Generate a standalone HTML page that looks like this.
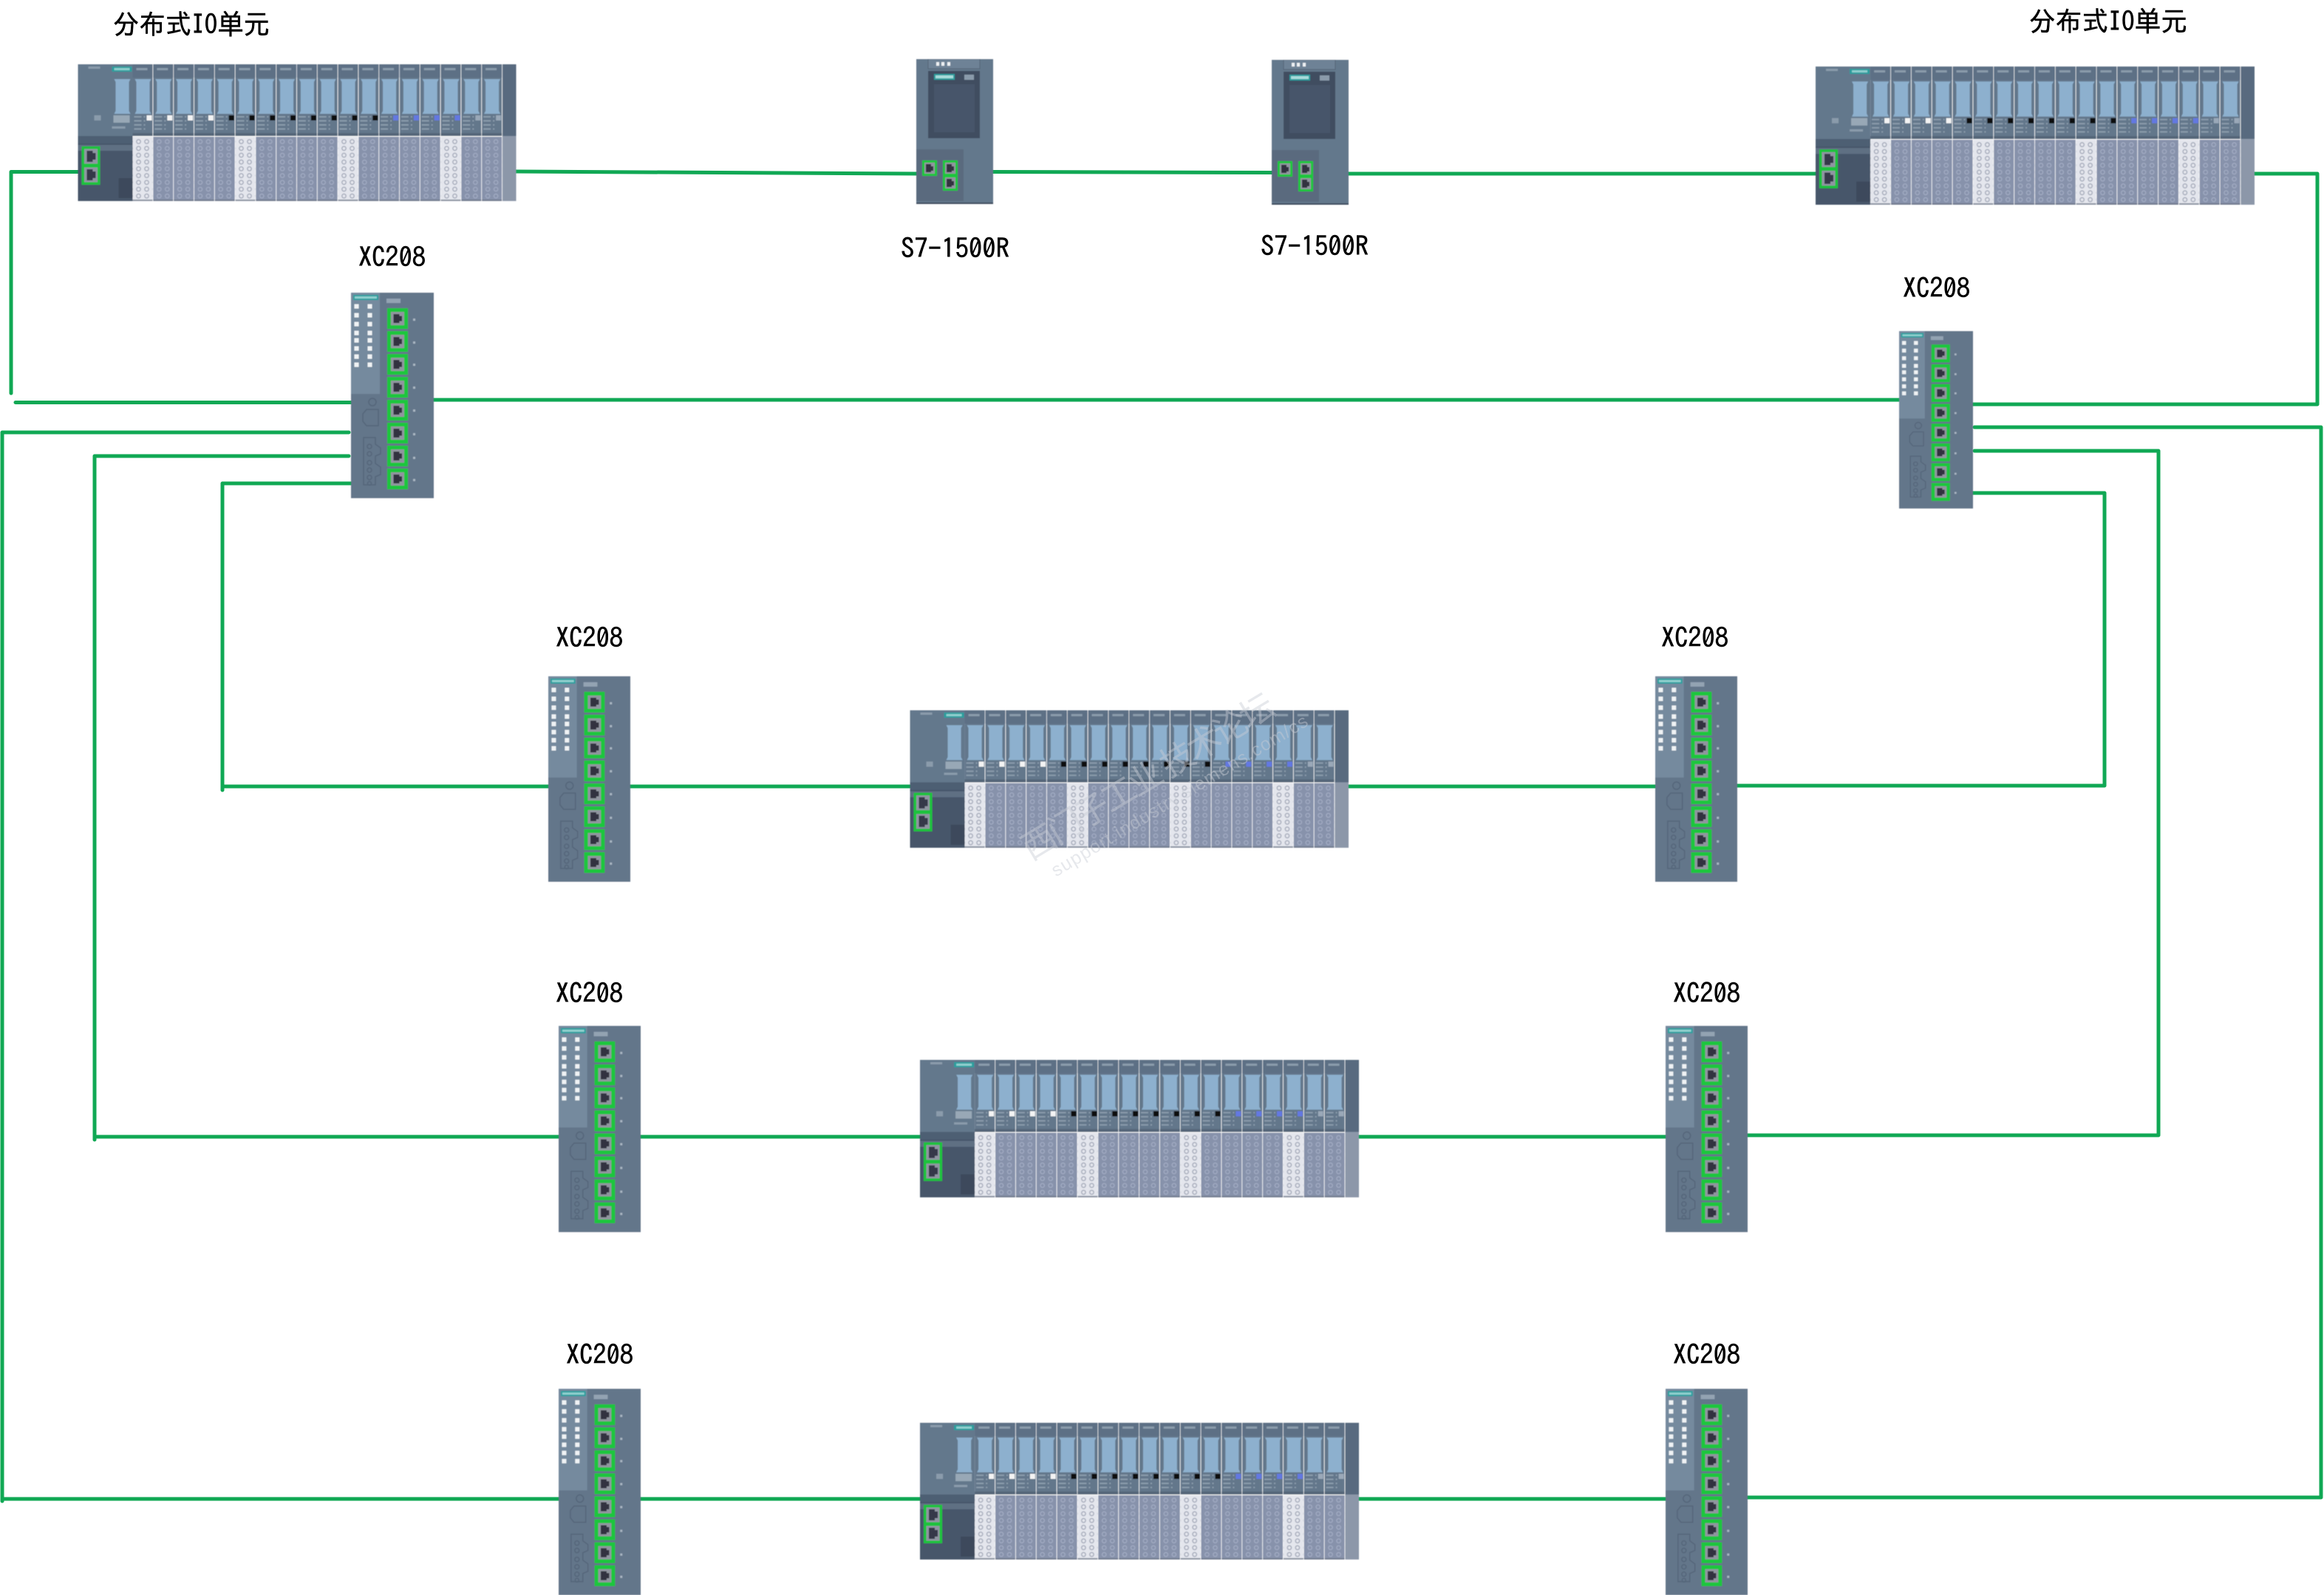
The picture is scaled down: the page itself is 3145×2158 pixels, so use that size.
<!DOCTYPE html>
<html lang="zh">
<head>
<meta charset="utf-8">
<title>S7-1500R network topology</title>
<style>
html,body{margin:0;padding:0;background:#fff}
svg{display:block}
text{font-family:"Liberation Sans","WenQuanYi Zen Hei","Noto Sans CJK SC",sans-serif}
.l{font-family:"WenQuanYi Zen Hei","IPAGothic","Noto Sans CJK SC",sans-serif;font-size:37px;fill:#000;stroke:#000;stroke-width:.5px}
</style>
</head>
<body>
<svg xmlns="http://www.w3.org/2000/svg" width="3145" height="2158" viewBox="0 0 3145 2158">
<defs>
<filter id="soft" x="-2%" y="-2%" width="104%" height="104%"><feGaussianBlur stdDeviation="0.6"/></filter>
<pattern id="hg" x="2.5" y="100" width="11" height="9.2" patternUnits="userSpaceOnUse"><circle cx="5.5" cy="4.6" r="2.7" fill="none" stroke="#a3adc4" stroke-width="1.2"/></pattern>
<pattern id="hw" x="2.5" y="100" width="11" height="9.2" patternUnits="userSpaceOnUse"><circle cx="5.5" cy="4.6" r="2.7" fill="none" stroke="#a2a8b8" stroke-width="1.3"/></pattern>
<pattern id="tl" x="2" y="70" width="13" height="5.5" patternUnits="userSpaceOnUse"><rect width="10" height="2" fill="#8a9bab"/></pattern>

<g id="mtop">
  <rect x="0" y="0" width="27" height="97" fill="#63778b"/>
  <rect x="0" y="0" width="27" height="18" fill="#5d7085"/>
  <rect x="5" y="5" width="15" height="3" fill="#8a9bab"/>
  <path d="M3 20H25L23 24V63L25 67H3L5 63V24Z" fill="#8db0ce"/>
  <rect x="1" y="69" width="16" height="22" fill="url(#tl)"/>
  <rect x="0" y="93" width="27" height="4" fill="#556679"/>
</g>
<g id="mg">
  <use href="#mtop"/>
  <rect x="0" y="98" width="27" height="87" fill="#8792ab"/>
  <rect x="0" y="100" width="27" height="83" fill="url(#hg)"/>
  <rect x="0" y="183" width="27" height="2" fill="#737d90"/>
</g>
<g id="mw">
  <use href="#mtop"/>
  <rect x="0" y="98" width="27" height="87" fill="#e4e6ed"/>
  <rect x="0" y="100" width="27" height="83" fill="url(#hw)"/>
  <rect x="0" y="183" width="27" height="2" fill="#8c94a2"/>
</g>

<symbol id="io" viewBox="0 0 593 185" preserveAspectRatio="none">
  <rect width="593" height="185" fill="#fff"/>
  <rect x="0" y="0" width="74" height="97" fill="#64788c"/>
  <rect x="0" y="97" width="74" height="88" fill="#47566b"/>
  <rect x="0" y="97" width="74" height="10" fill="#4e5e73"/>
  <rect x="0" y="109" width="74" height="8" fill="#5e6f83"/>
  <rect x="46" y="3" width="27" height="7" fill="#2b9e9e"/>
  <rect x="49" y="5" width="21" height="3" fill="#8fcfce"/>
  <rect x="14" y="3" width="16" height="3" fill="#8a9bab"/>
  <path d="M49 20H71L69 24V63L71 67H49L51 63V24Z" fill="#8db0ce"/>
  <rect x="48" y="69" width="22" height="10" fill="#98a8b6"/>
  <rect x="22" y="69" width="9" height="7" fill="#8a9bab"/>
  <rect x="46" y="84" width="18" height="3" fill="#8a9bab"/>
  <rect x="55" y="154" width="19" height="27" fill="#3c495c"/>
  <rect x="5" y="111" width="25" height="52" fill="#1ec23c"/>
  <rect x="8.5" y="114.5" width="18" height="20" fill="#8f95a2"/>
  <rect x="8.5" y="139.5" width="18" height="20" fill="#8f95a2"/>
  <path d="M12 117H20V120H24V129H20V132H12Z" fill="#34394a"/>
  <path d="M12 142H20V145H24V154H20V157H12Z" fill="#34394a"/>
  <use href="#mw" x="74"/><use href="#mg" x="101.8"/><use href="#mg" x="129.6"/><use href="#mg" x="157.4"/>
  <use href="#mg" x="185.2"/><use href="#mw" x="213"/><use href="#mg" x="240.8"/><use href="#mg" x="268.6"/>
  <use href="#mg" x="296.4"/><use href="#mg" x="324.2"/><use href="#mw" x="352"/><use href="#mg" x="379.8"/>
  <use href="#mg" x="407.6"/><use href="#mg" x="435.4"/><use href="#mg" x="463.2"/><use href="#mw" x="491"/>
  <use href="#mg" x="518.8"/><use href="#mg" x="546.6"/>
  <rect x="574.4" y="0" width="18.6" height="97" fill="#596b7f"/>
  <rect x="574.4" y="97" width="18.6" height="88" fill="#8c97a9"/>
  <g fill="#f4f4f4">
    <rect x="93" y="69" width="7" height="7"/><rect x="120.8" y="69" width="7" height="7"/><rect x="148.6" y="69" width="7" height="7"/><rect x="176.4" y="69" width="7" height="7"/>
  </g>
  <g fill="#0b0b10">
    <rect x="204.2" y="69" width="7" height="7"/><rect x="232" y="69" width="7" height="7"/><rect x="259.8" y="69" width="7" height="7"/><rect x="287.6" y="69" width="7" height="7"/>
    <rect x="315.4" y="69" width="7" height="7"/><rect x="343.2" y="69" width="7" height="7"/><rect x="371" y="69" width="7" height="7"/><rect x="398.8" y="69" width="7" height="7"/>
  </g>
  <g fill="#6478e2">
    <rect x="426.6" y="69" width="7" height="7"/><rect x="454.4" y="69" width="7" height="7"/><rect x="482.2" y="69" width="7" height="7"/><rect x="510" y="69" width="7" height="7"/>
  </g>
  <g fill="#9aa8b8">
    <rect x="537.8" y="69" width="7" height="7"/><rect x="565.6" y="69" width="7" height="7"/>
  </g>
</symbol>

<g id="port">
  <rect width="28" height="28" fill="#1ac63e"/>
  <rect x="5" y="5" width="18" height="18" fill="#90959f"/>
  <path d="M8.5 8H16.5V10.5H20V17.5H16.5V20H8.5Z" fill="#33323f"/>
</g>

<symbol id="sw" viewBox="0 0 112 278" preserveAspectRatio="none">
  <rect width="112" height="278" fill="#64768a"/>
  <rect width="39" height="137" fill="#748a9e"/>
  <rect x="3" y="3" width="34" height="7" fill="#2a9f9f"/>
  <rect x="5" y="5" width="30" height="3" fill="#8fcfce"/>
  <g fill="#f0f3f5">
    <rect x="4.5" y="15.5" width="6" height="6"/><rect x="4.5" y="27.5" width="6" height="6"/><rect x="4.5" y="39.5" width="6" height="6"/><rect x="4.5" y="51.5" width="6" height="6"/><rect x="4.5" y="61.5" width="6" height="6"/><rect x="4.5" y="72.5" width="6" height="6"/><rect x="4.5" y="83.5" width="6" height="6"/><rect x="4.5" y="94.5" width="6" height="6"/>
    <rect x="22.5" y="15.5" width="6" height="6"/><rect x="22.5" y="27.5" width="6" height="6"/><rect x="22.5" y="39.5" width="6" height="6"/><rect x="22.5" y="51.5" width="6" height="6"/><rect x="22.5" y="61.5" width="6" height="6"/><rect x="22.5" y="72.5" width="6" height="6"/><rect x="22.5" y="83.5" width="6" height="6"/><rect x="22.5" y="94.5" width="6" height="6"/>
  </g>
  <rect x="48" y="8" width="19" height="6" fill="#93a3b2"/>
  <use href="#port" x="49" y="21"/><use href="#port" x="49" y="52"/><use href="#port" x="49" y="83"/><use href="#port" x="49" y="114"/>
  <use href="#port" x="49" y="145"/><use href="#port" x="49" y="176"/><use href="#port" x="49" y="207"/><use href="#port" x="49" y="238"/>
  <g fill="#a9b6c2">
    <rect x="84" y="35" width="3" height="3"/><rect x="84" y="66" width="3" height="3"/><rect x="84" y="96" width="3" height="3"/><rect x="84" y="127" width="3" height="3"/>
    <rect x="84" y="158" width="3" height="3"/><rect x="84" y="190" width="3" height="3"/><rect x="84" y="222" width="3" height="3"/><rect x="84" y="252" width="3" height="3"/>
  </g>
  <g fill="none" stroke="#55667a" stroke-width="1.5">
    <circle cx="29" cy="148" r="5"/>
    <path d="M21 158H37V180H21L16 174V164Z"/>
    <path d="M17 196H33V205L40 210V218L33 221V231L40 236V246L33 249V260H17Z"/>
    <circle cx="25" cy="208" r="3"/><circle cx="25" cy="218" r="3"/><circle cx="25" cy="230" r="3"/><circle cx="25" cy="240" r="3"/><circle cx="25" cy="250" r="3"/><circle cx="25" cy="258" r="2.5"/>
  </g>
</symbol>

<symbol id="plc" viewBox="0 0 104 196" preserveAspectRatio="none">
  <rect width="104" height="196" fill="#64788c"/>
  <rect x="16" y="0" width="70" height="13" fill="#6e8296" stroke="#536477" stroke-width="1"/>
  <rect x="27" y="4" width="4" height="5" fill="#eef1f4"/><rect x="34" y="4" width="4" height="5" fill="#eef1f4"/><rect x="42" y="4" width="4" height="5" fill="#eef1f4"/>
  <rect x="16" y="16" width="70" height="91" fill="#3f4d61"/>
  <rect x="24" y="34" width="55" height="65" fill="#46556b"/>
  <rect x="24" y="20" width="28" height="8" fill="#2b9e9e"/>
  <rect x="26" y="22" width="24" height="4" fill="#a8dcdb"/>
  <rect x="65" y="21" width="13" height="7" fill="#8a9bab"/>
  <rect x="0" y="122" width="64" height="70" fill="#5a6a7e"/>
  <rect x="8" y="137" width="20" height="21" fill="#1ac63e"/>
  <rect x="11" y="140" width="14" height="15" fill="#90959f"/>
  <path d="M13 142H20V145H23V151H20V153H13Z" fill="#33323f"/>
  <rect x="36" y="137" width="20" height="41" fill="#1ac63e"/>
  <rect x="39" y="140" width="14" height="15" fill="#90959f"/>
  <rect x="39" y="160" width="14" height="15" fill="#90959f"/>
  <path d="M41 142H48V145H51V151H48V153H41Z" fill="#33323f"/>
  <path d="M41 162H48V165H51V171H48V173H41Z" fill="#33323f"/>
  <rect x="0" y="194" width="104" height="2" fill="#3f4d5e"/>
</symbol>
</defs>

<rect width="3145" height="2158" fill="#fff"/>

<g fill="none" stroke="#10a854" stroke-width="5" stroke-linecap="round" stroke-linejoin="round">
  <path d="M106 232.5H15V532"/>
  <path d="M21 544.5H475"/>
  <path d="M587 541H2570"/>
  <path d="M472 585H3V2031"/>
  <path d="M3 2028H756"/>
  <path d="M472 617H128V1542"/>
  <path d="M128 1538H756"/>
  <path d="M475 654H301V1069"/>
  <path d="M301 1064H742"/>
  <path d="M698 232L1240 235"/>
  <path d="M1344 232.5L1721 233.5"/>
  <path d="M1824 235H2457"/>
  <path d="M3051 235H3136V547H2670"/>
  <path d="M2672 578H3141V2026H2365"/>
  <path d="M2672 610H2921V1536H2365"/>
  <path d="M2660 667H2848V1063H2351"/>
  <path d="M853 1064H1231"/>
  <path d="M1825 1064H2240"/>
  <path d="M867 1538H1245"/>
  <path d="M1839 1538H2254"/>
  <path d="M867 2028H1245"/>
  <path d="M1839 2028H2254"/>
</g>

<g filter="url(#soft)">
<use href="#io" x="105.5" y="87" width="593" height="185"/>
<use href="#io" x="2457" y="90" width="594" height="187"/>
<use href="#io" x="1231.5" y="961" width="593.5" height="186"/>
<use href="#io" x="1245" y="1434" width="594" height="186"/>
<use href="#io" x="1245" y="1925" width="594" height="185"/>

<use href="#plc" x="1240" y="80" width="104" height="196"/>
<use href="#plc" x="1721" y="81" width="104" height="196"/>

<use href="#sw" x="475" y="396" width="112" height="278"/>
<use href="#sw" x="2570" y="448" width="100" height="240"/>
<use href="#sw" x="742" y="915" width="111" height="278"/>
<use href="#sw" x="2240" y="915" width="111" height="278"/>
<use href="#sw" x="756" y="1388" width="111" height="279"/>
<use href="#sw" x="2254" y="1388" width="111" height="279"/>
<use href="#sw" x="756" y="1879" width="111" height="279"/>
<use href="#sw" x="2254" y="1879" width="111" height="279"/>
</g>

<text class="l" x="153" y="46" textLength="212" lengthAdjust="spacingAndGlyphs">分布式IO单元</text>
<text class="l" x="2746" y="42" textLength="214" lengthAdjust="spacingAndGlyphs">分布式IO单元</text>
<text class="l" x="1219" y="349" textLength="147" lengthAdjust="spacingAndGlyphs">S7-1500R</text>
<text class="l" x="1706" y="346" textLength="146" lengthAdjust="spacingAndGlyphs">S7-1500R</text>
<text class="l" x="485" y="361" textLength="91" lengthAdjust="spacingAndGlyphs">XC208</text>
<text class="l" x="2575" y="403" textLength="91" lengthAdjust="spacingAndGlyphs">XC208</text>
<text class="l" x="752" y="876" textLength="91" lengthAdjust="spacingAndGlyphs">XC208</text>
<text class="l" x="2248" y="876" textLength="91" lengthAdjust="spacingAndGlyphs">XC208</text>
<text class="l" x="752" y="1357" textLength="91" lengthAdjust="spacingAndGlyphs">XC208</text>
<text class="l" x="2264" y="1357" textLength="91" lengthAdjust="spacingAndGlyphs">XC208</text>
<text class="l" x="766" y="1846" textLength="91" lengthAdjust="spacingAndGlyphs">XC208</text>
<text class="l" x="2264" y="1846" textLength="91" lengthAdjust="spacingAndGlyphs">XC208</text>

<g transform="translate(1395 1165) rotate(-31)" fill="#c8ccd4" opacity=".45">
  <text x="0" y="0" font-size="46" textLength="390">西门子工业 技术论坛</text>
  <text x="18" y="36" font-size="25" textLength="400">support.industry.siemens.com/cs</text>
</g>
</svg>
</body>
</html>
